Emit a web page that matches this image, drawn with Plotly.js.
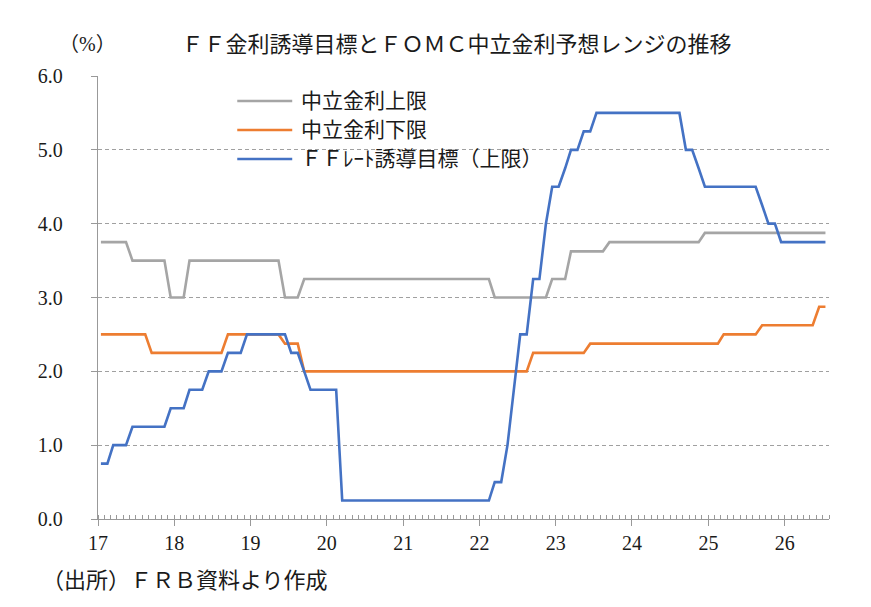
<!DOCTYPE html>
<html>
<head>
<meta charset="utf-8">
<script src="https://cdn.plot.ly/plotly-3.0.1.min.js"></script>
<style>html,body{margin:0;padding:0;background:#fff;}#chart{width:871px;height:607px;}</style>
</head>
<body>
<div id="chart"></div>
<script>
// Monthly series, Jan 2017 .. Jul 2026 (month-end values)
const startYear = 2017;
const monthCount = 115;
const seriesNames = ["中立金利上限", "中立金利下限", "ＦＦﾚｰﾄ誘導目標（上限）"];
const neutralUpper = [
  3.75,3.75,3.75,3.75,3.75,3.5,3.5,3.5,3.5,3.5,3.5,3.0,
  3.0,3.0,3.5,3.5,3.5,3.5,3.5,3.5,3.5,3.5,3.5,3.5,
  3.5,3.5,3.5,3.5,3.5,3.0,3.0,3.0,3.25,3.25,3.25,3.25,
  3.25,3.25,3.25,3.25,3.25,3.25,3.25,3.25,3.25,3.25,3.25,3.25,
  3.25,3.25,3.25,3.25,3.25,3.25,3.25,3.25,3.25,3.25,3.25,3.25,
  3.25,3.25,3.0,3.0,3.0,3.0,3.0,3.0,3.0,3.0,3.0,3.25,
  3.25,3.25,3.625,3.625,3.625,3.625,3.625,3.625,3.75,3.75,3.75,3.75,
  3.75,3.75,3.75,3.75,3.75,3.75,3.75,3.75,3.75,3.75,3.75,3.875,
  3.875,3.875,3.875,3.875,3.875,3.875,3.875,3.875,3.875,3.875,3.875,3.875,
  3.875,3.875,3.875,3.875,3.875,3.875,3.875
];
const neutralLower = [
  2.5,2.5,2.5,2.5,2.5,2.5,2.5,2.5,2.25,2.25,2.25,2.25,
  2.25,2.25,2.25,2.25,2.25,2.25,2.25,2.25,2.5,2.5,2.5,2.5,
  2.5,2.5,2.5,2.5,2.5,2.375,2.375,2.375,2.0,2.0,2.0,2.0,
  2.0,2.0,2.0,2.0,2.0,2.0,2.0,2.0,2.0,2.0,2.0,2.0,
  2.0,2.0,2.0,2.0,2.0,2.0,2.0,2.0,2.0,2.0,2.0,2.0,
  2.0,2.0,2.0,2.0,2.0,2.0,2.0,2.0,2.25,2.25,2.25,2.25,
  2.25,2.25,2.25,2.25,2.25,2.375,2.375,2.375,2.375,2.375,2.375,2.375,
  2.375,2.375,2.375,2.375,2.375,2.375,2.375,2.375,2.375,2.375,2.375,2.375,
  2.375,2.375,2.5,2.5,2.5,2.5,2.5,2.5,2.625,2.625,2.625,2.625,
  2.625,2.625,2.625,2.625,2.625,2.875,2.875
];
const ffTarget = [
  0.75,0.75,1.0,1.0,1.0,1.25,1.25,1.25,1.25,1.25,1.25,1.5,
  1.5,1.5,1.75,1.75,1.75,2.0,2.0,2.0,2.25,2.25,2.25,2.5,
  2.5,2.5,2.5,2.5,2.5,2.5,2.25,2.25,2.0,1.75,1.75,1.75,
  1.75,1.75,0.25,0.25,0.25,0.25,0.25,0.25,0.25,0.25,0.25,0.25,
  0.25,0.25,0.25,0.25,0.25,0.25,0.25,0.25,0.25,0.25,0.25,0.25,
  0.25,0.25,0.5,0.5,1.0,1.75,2.5,2.5,3.25,3.25,4.0,4.5,
  4.5,4.75,5.0,5.0,5.25,5.25,5.5,5.5,5.5,5.5,5.5,5.5,
  5.5,5.5,5.5,5.5,5.5,5.5,5.5,5.5,5.0,5.0,4.75,4.5,
  4.5,4.5,4.5,4.5,4.5,4.5,4.5,4.5,4.25,4.0,4.0,3.75,
  3.75,3.75,3.75,3.75,3.75,3.75,3.75
];
const yTicks = [0,1,2,3,4,5,6];

const months = [];
for (let i = 0; i < monthCount; i++) {
  const y = startYear + Math.floor(i / 12);
  const m = (i % 12) + 1;
  months.push(y + "-" + String(m).padStart(2, "0") + "-15");
}

const colors = ["#A5A5A5", "#ED7D31", "#4472C4"];
const seriesValues = [neutralUpper, neutralLower, ffTarget];
const FONT = '"Liberation Serif", "Noto Sans CJK JP", serif';

const traces = seriesValues.map((vals, k) => ({
  type: "scatter", mode: "lines", x: months, y: vals, name: seriesNames[k],
  line: {color: colors[k], width: 2.6}, showlegend: false, hoverinfo: "skip"
}));

// custom legend (long line samples like the original)
const legRows = [0.9436, 0.878, 0.8126];
const shapes = legRows.map((yy, k) => ({
  type: "line", xref: "paper", yref: "paper", x0: 0.1905, x1: 0.2657, y0: yy, y1: yy,
  line: {color: colors[k], width: 2.6}
}));
const annotations = legRows.map((yy, k) => ({
  xref: "paper", yref: "paper", x: 0.2753, y: yy, xanchor: "left", yanchor: "middle",
  text: seriesNames[k], showarrow: false, font: {family: FONT, size: 21, color: "#1a1a1a"}
}));
annotations.push({
  xref: "paper", yref: "paper", x: -0.0146, y: 1.072, xanchor: "center", yanchor: "middle",
  text: "（%）", showarrow: false, font: {family: FONT, size: 20, color: "#1a1a1a"}
});
annotations.push({
  xref: "paper", yref: "paper", x: -0.0789, y: -0.1377, xanchor: "left", yanchor: "middle",
  text: "（出所）ＦＲＢ資料より作成", showarrow: false, font: {family: FONT, size: 22, color: "#1a1a1a"}
});

const layout = {
  width: 871, height: 607,
  margin: {l: 98, r: 42, t: 76, b: 88, pad: 0},
  paper_bgcolor: "#fff", plot_bgcolor: "#fff",
  font: {family: FONT, size: 20, color: "#1a1a1a"},
  title: {text: "ＦＦ金利誘導目標とＦＯＭＣ中立金利予想レンジの推移", font: {family: FONT, size: 22, color: "#1a1a1a"},
          xref: "paper", x: 0.4906, xanchor: "center", yref: "container", y: 0.9275, yanchor: "middle"},
  xaxis: {
    type: "date", range: ["2017-01-01", "2026-08-01"],
    tick0: "2017-01-01", dtick: "M12", tickformat: "%y",
    ticks: "outside", ticklen: 6, tickcolor: "#999", tickwidth: 1,
    minor: {dtick: "M1", ticks: "inside", ticklen: 4, tickcolor: "#999", tickwidth: 1, showgrid: false},
    showline: true, linecolor: "#999", linewidth: 1.3, showgrid: false, zeroline: false,
    tickfont: {family: FONT, size: 20, color: "#1a1a1a"}, ticklabelstandoff: 0
  },
  yaxis: {
    range: [0, 6], tickvals: yTicks, tickformat: ".1f",
    ticks: "outside", ticklen: 6, tickcolor: "#999", tickwidth: 1,
    showline: true, linecolor: "#999", linewidth: 1.3,
    showgrid: true, gridcolor: "#A0A0A0", griddash: "4px,3px", gridwidth: 1.2, zeroline: false,
    tickfont: {family: FONT, size: 20, color: "#1a1a1a"}, ticklabelstandoff: 24
  },
  shapes: shapes, annotations: annotations, showlegend: false
};

Plotly.newPlot("chart", traces, layout, {staticPlot: true, displayModeBar: false});
</script>
</body>
</html>
